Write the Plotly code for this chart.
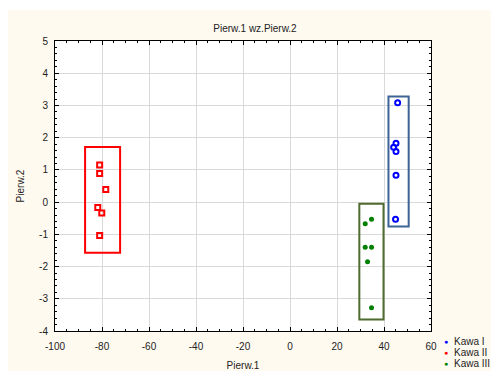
import plotly.graph_objects as go

# ---- data ----
kawa1_x = [45.8, 45.1, 44.1, 45.1, 45.1, 44.9]
kawa1_y = [3.08, 1.83, 1.70, 1.57, 0.83, -0.53]
kawa2_x = [-81.0, -81.0, -78.4, -81.8, -80.1, -81.0]
kawa2_y = [1.15, 0.89, 0.39, -0.17, -0.34, -1.04]
kawa3_x = [32.0, 34.7, 32.0, 34.7, 33.0, 34.7]
kawa3_y = [-0.67, -0.53, -1.40, -1.40, -1.85, -3.28]
series_names = ["Kawa I", "Kawa II", "Kawa III"]
# group boxes: [x0, x1, y0, y1]
box_kawa1 = [41.9, 50.5, -0.76, 3.28]
box_kawa2 = [-87.2, -72.3, -1.57, 1.71]
box_kawa3 = [29.5, 39.8, -3.64, -0.05]
x_ticks = [-100, -80, -60, -40, -20, 0, 20, 40, 60]
y_ticks = [-4, -3, -2, -1, 0, 1, 2, 3, 4, 5]

W, H = 491, 371
L, R, T, B = 55, 60, 41, 40
pw, ph = W - L - R, H - T - B

def px(x):
    return (x - L) / pw

def py(y):
    return (H - B - y) / ph

fig = go.Figure()
fig.add_trace(go.Scatter(x=kawa1_x, y=kawa1_y, mode="markers", name=series_names[0],
                         marker=dict(symbol="circle-open", size=5, color="#0000ff", line=dict(width=2)),
                         showlegend=False))
fig.add_trace(go.Scatter(x=kawa2_x, y=kawa2_y, mode="markers", name=series_names[1],
                         marker=dict(symbol="square-open", size=5, color="#ff0000", line=dict(width=2)),
                         showlegend=False))
fig.add_trace(go.Scatter(x=kawa3_x, y=kawa3_y, mode="markers", name=series_names[2],
                         marker=dict(symbol="circle", size=5, color="#008000"),
                         showlegend=False))

box_colors = ["#3c6496", "#ff0000", "#4f6b2f"]
for b, c in zip([box_kawa1, box_kawa2, box_kawa3], box_colors):
    fig.add_shape(type="rect", xref="x", yref="y", x0=b[0], x1=b[1], y0=b[2], y1=b[3],
                  line=dict(color=c, width=2), fillcolor="rgba(0,0,0,0)")

# white band at top and left of the cream page
fig.add_shape(type="rect", xref="paper", yref="paper", layer="below",
              x0=px(-5), x1=px(W + 5), y0=py(10), y1=py(-5),
              line=dict(width=0), fillcolor="white")
fig.add_shape(type="rect", xref="paper", yref="paper", layer="below",
              x0=px(-5), x1=px(8), y0=py(H + 5), y1=py(-5),
              line=dict(width=0), fillcolor="white")

# legend (drawn as annotations to match spacing)
leg_colors = ["#0000ff", "#ff0000", "#008000"]
for i, (n, c) in enumerate(zip(series_names, leg_colors)):
    yy = 341.5 + i * 11
    fig.add_annotation(xref="paper", yref="paper", x=px(446), y=py(yy), text="●",
                       showarrow=False, font=dict(size=7, color=c, family="Liberation Sans"),
                       xanchor="center", yanchor="middle")
    fig.add_annotation(xref="paper", yref="paper", x=px(452), y=py(yy), text=n,
                       showarrow=False, font=dict(size=10, color="#222", family="Liberation Sans"),
                       xanchor="left", yanchor="middle")

axis_common = dict(showline=True, linecolor="black", linewidth=1, mirror="ticks",
                   ticks="inside", ticklen=4, tickcolor="black", automargin=False,
                   showgrid=True, gridcolor="#d9d9d9", gridwidth=1, zeroline=False,
                   tickfont=dict(size=10, color="#222", family="Liberation Sans"))

fig.update_xaxes(range=[-100, 60], tickvals=x_ticks, ticktext=[str(v) for v in x_ticks],
                 ticklabelstandoff=6, **axis_common,
                 minor=dict(dtick=5, ticks="inside", ticklen=2, tickcolor="black", showgrid=False),
                 title=dict(text="Pierw.1", font=dict(size=10, color="#222", family="Liberation Sans"), standoff=10))
fig.update_yaxes(range=[-4, 5], tickvals=y_ticks, ticktext=[str(v) for v in y_ticks],
                 ticklabelstandoff=4, **axis_common,
                 minor=dict(dtick=0.2, ticks="inside", ticklen=2, tickcolor="black", showgrid=False),
                 title=dict(text="Pierw.2", font=dict(size=10, color="#222", family="Liberation Sans"), standoff=12))

fig.update_layout(
    width=W, height=H,
    margin=dict(l=L, r=R, t=T, b=B),
    paper_bgcolor="#fffaf0", plot_bgcolor="white",
    title=dict(text="Pierw.1 wz.Pierw.2", x=255 / W, xanchor="center", y=1 - 28 / H, yanchor="middle",
               xref="container", yref="container",
               font=dict(size=10, color="#222", family="Liberation Sans")),
    showlegend=False,
)

fig.write_html("out.html")
